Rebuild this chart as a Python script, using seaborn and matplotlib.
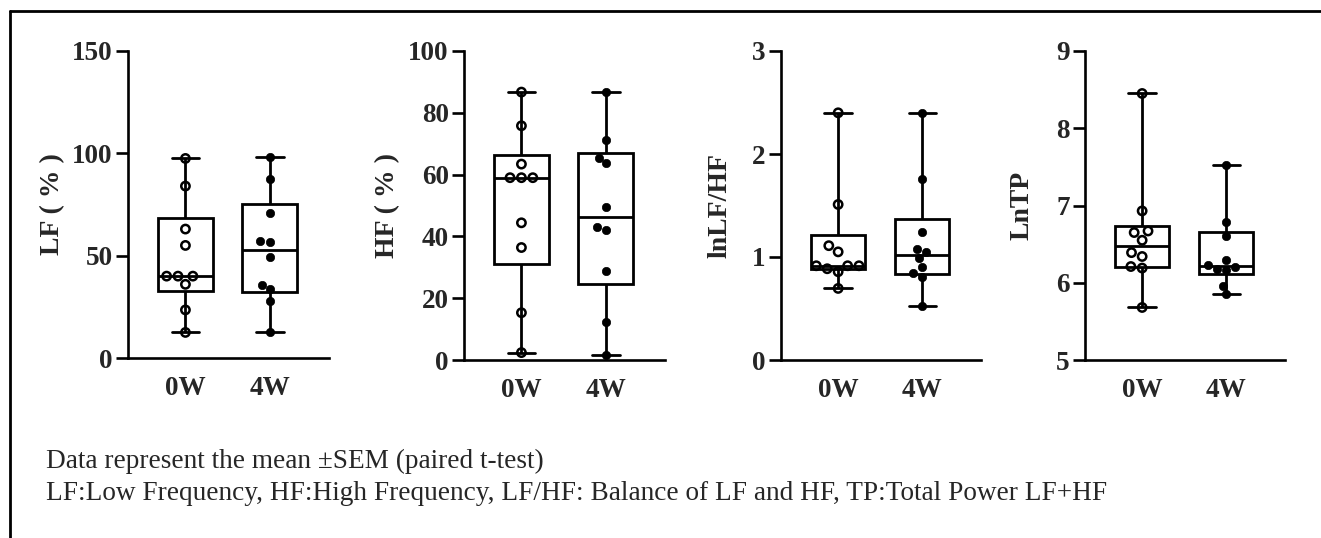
import numpy as np
import pandas as pd
import matplotlib
matplotlib.use("Agg")
import matplotlib.pyplot as plt
import seaborn as sns
from matplotlib.lines import Line2D

# ---------------- data ----------------
groups = ["0W", "4W"]

lf_0w = [97.5, 84, 63, 55, 40, 40, 40, 36, 23.5, 12.5]
lf_4w = [98, 87.5, 71, 57, 56.5, 49.5, 35.8, 33.7, 28, 12.5]

hf_0w = [86.7, 75.8, 63.4, 59, 59, 59, 44.4, 36.4, 15.3, 2.4]
hf_4w = [86.7, 71.1, 65.5, 63.6, 49.5, 43, 42.2, 28.7, 12.2, 1.6]

lnlfhf_0w = [2.40, 1.51, 1.11, 1.05, 0.915, 0.915, 0.915, 0.886, 0.857, 0.695]
lnlfhf_4w = [2.40, 1.756, 1.238, 1.077, 1.044, 0.986, 0.905, 0.841, 0.808, 0.524]

lntp_0w = [8.45, 6.93, 6.67, 6.65, 6.55, 6.39, 6.34, 6.21, 6.19, 5.68]
lntp_4w = [7.53, 6.78, 6.61, 6.30, 6.23, 6.18, 6.17, 6.20, 5.96, 5.85]

ylabels = ["LF ( % )", "HF ( % )", "lnLF/HF", "LnTP"]
yticks_list = [[0, 50, 100, 150], [0, 20, 40, 60, 80, 100], [0, 1, 2, 3], [5, 6, 7, 8, 9]]
caption1 = "Data represent the mean \u00b1SEM (paired t-test)"
caption2 = "LF:Low Frequency, HF:High Frequency, LF/HF: Balance of LF and HF, TP:Total Power LF+HF"

series = [(lf_0w, lf_4w), (hf_0w, hf_4w), (lnlfhf_0w, lnlfhf_4w), (lntp_0w, lntp_4w)]

# ---------------- style ----------------
sns.set_theme(style="ticks")
plt.rcParams["font.family"] = ["Liberation Serif", "DejaVu Serif"]

W, H = 1321, 538
fig = plt.figure(figsize=(W / 100, H / 100), dpi=100)

# axes boxes in pixels: left, right, bottom, top
boxes = [(128, 329, 358, 51), (464, 665, 360, 51), (781, 981, 360, 51), (1085, 1285, 360, 51)]
label_offsets = [-75, -76, -61, -63]

for (v0, v4), ylab, yt, (l, r, b, t), loff in zip(series, ylabels, yticks_list, boxes, label_offsets):
    ax = fig.add_axes([l / W, 1 - b / H, (r - l) / W, (b - t) / H])

    # box summary (GraphPad-style quartiles)
    rows = []
    for g, vals in zip(groups, (v0, v4)):
        q = np.percentile(vals, [0, 25, 50, 75, 100], method="weibull")
        rows += [{"group": g, "value": x} for x in q]
    sdf = pd.DataFrame(rows)
    sns.boxplot(data=sdf, x="group", y="value", order=groups, whis=(0, 100),
                width=0.65, color="white", linecolor="black", linewidth=2.0,
                showfliers=False, ax=ax)

    # individual points
    for g, vals, filled in zip(groups, (v0, v4), (False, True)):
        sub = pd.DataFrame({"group": [g] * len(vals), "value": vals})
        n0 = len(ax.collections)
        sns.swarmplot(data=sub, x="group", y="value", order=groups, size=6,
                      color="black", ax=ax, zorder=5)
        for coll in ax.collections[n0:]:
            if filled:
                coll.set_facecolor("black")
                coll.set_edgecolor("black")
                coll.set_linewidth(0.5)
            else:
                coll.set_facecolor("none")
                coll.set_edgecolor("black")
                coll.set_linewidth(1.8)

    ax.set_xlim(-0.68, 1.70)
    ax.set_ylim(yt[0], yt[-1])
    ax.set_yticks(yt)
    ax.set_xlabel("")
    ax.set_ylabel(ylab, fontsize=20, fontweight="bold")
    ax.yaxis.label.set_va("center")
    ax.yaxis.set_label_coords(loff / (r - l), 0.5)
    for sp in ("top", "right"):
        ax.spines[sp].set_visible(False)
    for sp in ("left", "bottom"):
        ax.spines[sp].set_linewidth(1.9)
        ax.spines[sp].set_color("black")
    ax.tick_params(axis="y", length=9, width=1.9, labelsize=19.5, pad=2, color="black")
    ax.tick_params(axis="x", length=0, labelsize=19.5, pad=13)
    for lab in ax.get_xticklabels() + ax.get_yticklabels():
        lab.set_fontweight("bold")
    ax.set_facecolor("white")

# caption
fig.text(46 / W, 1 - 468 / H, caption1, fontsize=19.6, va="baseline", ha="left")
fig.text(46 / W, 1 - 500 / H, caption2, fontsize=19.6, va="baseline", ha="left")

# frame lines (top and left)
fig.add_artist(Line2D([10 / W, 1], [1 - 11 / H, 1 - 11 / H], transform=fig.transFigure,
                      color="black", lw=2))
fig.add_artist(Line2D([10 / W, 10 / W], [0, 1 - 11 / H], transform=fig.transFigure,
                      color="black", lw=2))

fig.savefig("out.png", dpi=100, facecolor="white")
